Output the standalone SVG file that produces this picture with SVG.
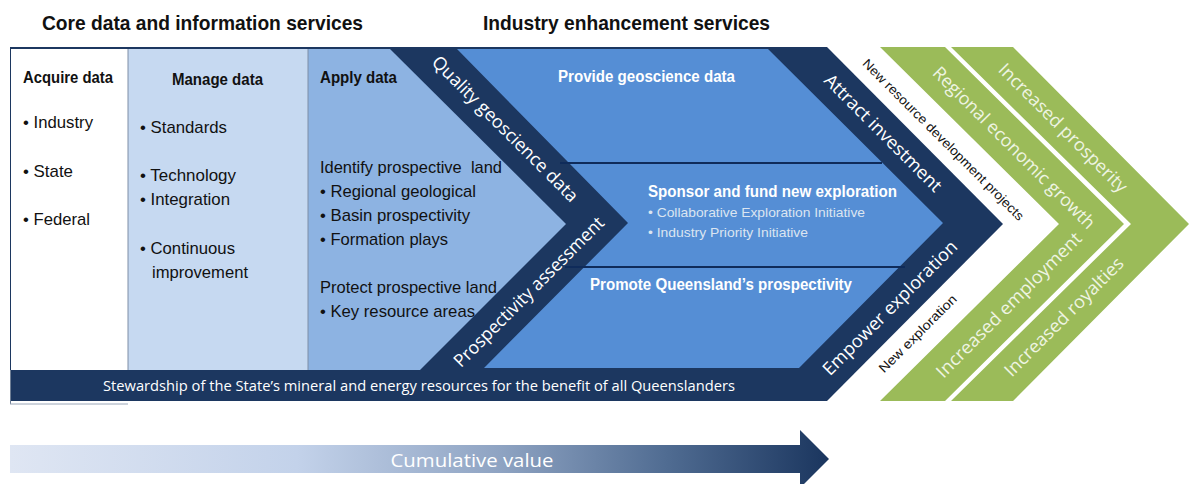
<svg xmlns="http://www.w3.org/2000/svg" width="1189" height="484" viewBox="0 0 1189 484">
  <style>
    .hdr { font-family: "Liberation Sans", Arial, sans-serif; font-weight: bold; font-size: 20.5px; fill: #111; }
    .ttl { font-family: "Liberation Sans", Arial, sans-serif; font-weight: bold; font-size: 16.5px; fill: #111; }
    .body { font-family: "Liberation Sans", Arial, sans-serif; font-size: 17px; fill: #111; white-space: pre; }
    .wb { font-family: "Liberation Sans", Arial, sans-serif; font-weight: bold; font-size: 16px; fill: #fff; }
    .ws { font-family: "Liberation Sans", Arial, sans-serif; font-size: 13.5px; fill: #dbe5f1; }
    .band { font-family: "Open Sans", "Liberation Sans", sans-serif; font-size: 18px; fill: #fff; text-anchor: middle; }
    .gband { font-family: "Open Sans", "Liberation Sans", sans-serif; font-size: 18px; fill: #eef4e2; text-anchor: middle; }
    .small { font-family: "Liberation Sans", Arial, sans-serif; font-size: 13px; fill: #111; text-anchor: middle; }
    .stew { font-family: "Open Sans", "Liberation Sans", sans-serif; font-size: 14.5px; fill: #fff; }
    .navy { fill: #1c3760; }
    .green { fill: #9bbb59; }
    .divider { stroke: #0f2b5a; stroke-width: 2; }
  </style>
  <defs>
    <linearGradient id="cumGrad" x1="10" y1="0" x2="830" y2="0" gradientUnits="userSpaceOnUse">
      <stop offset="0" stop-color="#dfe6f3"/>
      <stop offset="0.35" stop-color="#c3d2ea"/>
      <stop offset="0.6" stop-color="#8ea3c2"/>
      <stop offset="0.8" stop-color="#506c92"/>
      <stop offset="1" stop-color="#1a355e"/>
    </linearGradient>
  </defs>

  <rect width="1189" height="484" fill="#fff"/>

  <!-- section headings -->
  <g id="headings">
    <text class="hdr" x="42" y="30" textLength="321" lengthAdjust="spacingAndGlyphs">Core data and information services</text>
    <text class="hdr" x="483" y="30" textLength="287" lengthAdjust="spacingAndGlyphs">Industry enhancement services</text>
  </g>

  <!-- navy base frame with right chevron -->
  <g id="frame">
    <polygon class="navy" points="10,47 827,47 1003,224 827,401 10,401"/>
    <line x1="10.5" y1="370" x2="10.5" y2="404" stroke="#6f7f95" stroke-width="1"/>
    <line x1="10" y1="404" x2="128" y2="404" stroke="#9aa6b8" stroke-width="1"/>
  </g>

  <!-- acquire column -->
  <g id="acquire">
    <rect x="11" y="49" width="117" height="321" fill="#fff"/>
    <text class="ttl" x="23" y="83" textLength="90" lengthAdjust="spacingAndGlyphs">Acquire data</text>
    <text class="body" x="23" y="128" textLength="70" lengthAdjust="spacingAndGlyphs">• Industry</text>
    <text class="body" x="23" y="177" textLength="50" lengthAdjust="spacingAndGlyphs">• State</text>
    <text class="body" x="23" y="225" textLength="67" lengthAdjust="spacingAndGlyphs">• Federal</text>
  </g>

  <!-- manage column -->
  <g id="manage">
    <rect x="128" y="49" width="180" height="321" fill="#c6d9f1"/>
    <line x1="128" y1="49" x2="128" y2="370" stroke="#7f8ea6" stroke-width="1"/>
    <text class="ttl" x="172" y="85" textLength="91" lengthAdjust="spacingAndGlyphs">Manage data</text>
    <text class="body" x="140" y="133" textLength="87" lengthAdjust="spacingAndGlyphs">• Standards</text>
    <text class="body" x="140" y="181" textLength="96" lengthAdjust="spacingAndGlyphs">• Technology</text>
    <text class="body" x="140" y="205" textLength="90" lengthAdjust="spacingAndGlyphs">• Integration</text>
    <text class="body" x="140" y="254" textLength="95" lengthAdjust="spacingAndGlyphs">• Continuous</text>
    <text class="body" x="152" y="278" textLength="96" lengthAdjust="spacingAndGlyphs">improvement</text>
  </g>

  <!-- apply column -->
  <g id="apply">
    <polygon points="308,49 390,49 566,224 420,370 308,370" fill="#8db3e2"/>
    <line x1="308" y1="49" x2="308" y2="370" stroke="#7f8ea6" stroke-width="1"/>
    <text class="ttl" x="320" y="83" textLength="77" lengthAdjust="spacingAndGlyphs">Apply data</text>
    <text class="body" x="320" y="173" textLength="182" lengthAdjust="spacingAndGlyphs">Identify prospective  land</text>
    <text class="body" x="320" y="197" textLength="156" lengthAdjust="spacingAndGlyphs">• Regional geological</text>
    <text class="body" x="320" y="221" textLength="150" lengthAdjust="spacingAndGlyphs">• Basin prospectivity</text>
    <text class="body" x="320" y="245" textLength="128" lengthAdjust="spacingAndGlyphs">• Formation plays</text>
    <text class="body" x="320" y="293" textLength="177" lengthAdjust="spacingAndGlyphs">Protect prospective land</text>
    <text class="body" x="320" y="317" textLength="155" lengthAdjust="spacingAndGlyphs">• Key resource areas</text>
  </g>

  <!-- first navy band labels -->
  <g id="quality-band">
    <text class="band" transform="translate(505,129) rotate(45)" y="6" textLength="198" lengthAdjust="spacingAndGlyphs">Quality geoscience data</text>
    <text class="band" transform="translate(529,292) rotate(-45)" y="6" textLength="204" lengthAdjust="spacingAndGlyphs">Prospectivity assessment</text>
  </g>

  <!-- industry services chevron -->
  <g id="services">
    <polygon points="457,49 768,49 943,223 799,368 484,368 628,223" fill="#558ed5"/>
    <line class="divider" x1="560" y1="163" x2="882" y2="163"/>
    <line class="divider" x1="565" y1="267" x2="905" y2="267"/>
    <text class="wb" x="558" y="82" textLength="177" lengthAdjust="spacingAndGlyphs">Provide geoscience data</text>
    <text class="wb" x="648" y="197" textLength="249" lengthAdjust="spacingAndGlyphs">Sponsor and fund new exploration</text>
    <text class="ws" x="648" y="217" textLength="217" lengthAdjust="spacingAndGlyphs">• Collaborative Exploration Initiative</text>
    <text class="ws" x="648" y="237" textLength="160" lengthAdjust="spacingAndGlyphs">• Industry Priority Initiative</text>
    <text class="wb" x="590" y="290" textLength="262" lengthAdjust="spacingAndGlyphs">Promote Queensland’s prospectivity</text>
  </g>

  <!-- second navy band labels -->
  <g id="attract-band">
    <text class="band" transform="translate(883,133) rotate(45)" y="6" textLength="158" lengthAdjust="spacingAndGlyphs">Attract investment</text>
    <text class="band" transform="translate(890,308) rotate(-45)" y="6" textLength="182" lengthAdjust="spacingAndGlyphs">Empower exploration</text>
  </g>

  <!-- stewardship bar text -->
  <g id="stewardship">
    <text class="stew" x="103" y="391" textLength="632" lengthAdjust="spacingAndGlyphs">Stewardship of the State’s mineral and energy resources for the benefit of all Queenslanders</text>
  </g>

  <!-- outcome labels in the white gap -->
  <g id="outcomes">
    <text class="small" transform="translate(943,140) rotate(45)" y="4" textLength="222" lengthAdjust="spacingAndGlyphs">New resource development projects</text>
    <text class="small" transform="translate(918,334) rotate(-45)" y="4" textLength="104" lengthAdjust="spacingAndGlyphs">New exploration</text>
  </g>

  <!-- benefit chevrons -->
  <g id="benefit-regional">
    <polygon class="green" points="880,47 945,47 1124,224 945,401 880,401 1059,224"/>
    <text class="gband" transform="translate(1014,148) rotate(45)" y="6" textLength="221" lengthAdjust="spacingAndGlyphs">Regional economic growth</text>
    <text class="gband" transform="translate(1009,305) rotate(-45)" y="6" textLength="197" lengthAdjust="spacingAndGlyphs">Increased employment</text>
  </g>
  <g id="benefit-prosperity">
    <polygon class="green" points="951,47 1013,47 1189,224 1013,401 951,401 1131,224"/>
    <text class="gband" transform="translate(1063,128) rotate(45)" y="6" textLength="174" lengthAdjust="spacingAndGlyphs">Increased prosperity</text>
    <text class="gband" transform="translate(1064,317) rotate(-45)" y="6" textLength="160" lengthAdjust="spacingAndGlyphs">Increased royalties</text>
  </g>

  <!-- cumulative value arrow -->
  <g id="cumulative-arrow">
    <polygon points="10,445 800,445 800,430 829,459 800,488 800,473 10,473" fill="url(#cumGrad)"/>
    <text x="472" y="467" text-anchor="middle" font-family="'Open Sans', 'Liberation Sans', sans-serif" font-size="19" fill="#fff" textLength="163" lengthAdjust="spacingAndGlyphs">Cumulative value</text>
  </g>
</svg>
